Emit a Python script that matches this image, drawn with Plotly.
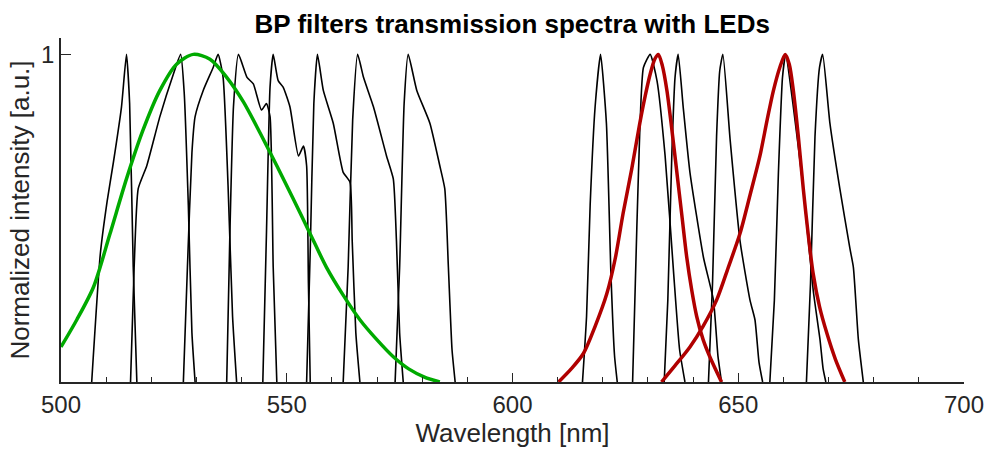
import plotly.graph_objects as go

# Band-pass filter transmission curves (wavelength nm, normalized)
f1_x = [506.8, 508.7, 510.2, 511.6, 513.4, 514.5, 515.2, 516.0, 516.8]
f1_y = [0.0, 0.39, 0.55, 0.67, 0.84, 1.0, 0.85, 0.35, 0.0]
f2_x = [515.4, 516.2, 517.1, 519.0, 521.9, 524.9, 526.5, 527.3, 528.2, 529.0, 529.7]
f2_y = [0.0, 0.35, 0.59, 0.66, 0.81, 0.94, 1.0, 0.88, 0.54, 0.15, 0.0]
f3_x = [527.1, 528.0, 529.0, 529.7, 531.5, 533.7, 534.8, 535.9, 537.0, 538.0, 538.9]
f3_y = [0.0, 0.35, 0.7, 0.81, 0.89, 0.96, 1.0, 0.93, 0.6, 0.2, 0.0]
f4_x = [536.7, 537.4, 538.2, 539.3, 541.2, 542.6, 544.4, 545.5, 546.3, 547.0, 547.8]
f4_y = [0.0, 0.45, 0.84, 1.0, 0.93, 0.91, 0.83, 0.85, 0.81, 0.35, 0.0]
f5_x = [544.7, 545.5, 546.3, 547.0, 548.1, 549.2, 550.7, 552.6, 553.7, 554.4, 554.8, 555.2]
f5_y = [0.0, 0.45, 0.9, 1.0, 0.92, 0.90, 0.84, 0.69, 0.72, 0.66, 0.3, 0.0]
f6_x = [554.4, 555.2, 556.0, 556.8, 558.1, 560.3, 562.5, 564.0, 564.5, 565.3, 566.2]
f6_y = [0.0, 0.4, 0.85, 1.0, 0.89, 0.79, 0.64, 0.61, 0.43, 0.15, 0.0]
f7_x = [562.5, 563.6, 564.6, 565.7, 567.0, 569.2, 572.1, 573.6, 574.3, 575.0, 575.8]
f7_y = [0.0, 0.35, 0.8, 1.0, 0.93, 0.84, 0.69, 0.62, 0.43, 0.15, 0.0]
f8_x = [574.0, 575.0, 576.0, 576.9, 578.8, 581.7, 583.9, 585.0, 585.8, 586.6, 587.3]
f8_y = [0.0, 0.35, 0.85, 1.0, 0.89, 0.79, 0.66, 0.59, 0.35, 0.1, 0.0]
f9_x = [615.5, 616.4, 617.2, 618.3, 619.5, 620.8, 621.8, 622.6, 623.2]
f9_y = [0.0, 0.2, 0.54, 0.84, 1.0, 0.79, 0.33, 0.08, 0.0]
f10_x = [626.6, 627.2, 627.9, 629.0, 630.5, 632.0, 633.8, 635.7, 637.0, 638.2]
f10_y = [0.0, 0.3, 0.64, 0.96, 1.0, 0.92, 0.69, 0.33, 0.1, 0.0]
f11_x = [633.6, 634.4, 635.3, 636.0, 636.7, 637.8, 639.3, 642.3, 644.5, 645.5, 646.3]
f11_y = [0.0, 0.25, 0.7, 0.93, 1.0, 0.84, 0.64, 0.38, 0.25, 0.08, 0.0]
f12_x = [643.4, 644.3, 645.2, 645.9, 646.6, 648.2, 650.4, 652.6, 653.7, 654.6, 655.4]
f12_y = [0.0, 0.3, 0.75, 0.95, 1.0, 0.74, 0.43, 0.25, 0.19, 0.06, 0.0]
f13_x = [657.0, 658.0, 658.9, 659.8, 660.5, 662.2, 664.4, 666.6, 668.1, 668.8, 669.4]
f13_y = [0.0, 0.25, 0.64, 0.93, 1.0, 0.84, 0.59, 0.28, 0.13, 0.04, 0.0]
f14_x = [665.1, 666.0, 667.0, 668.0, 668.7, 670.3, 672.5, 674.7, 675.5, 676.6, 677.7]
f14_y = [0.0, 0.3, 0.75, 0.96, 1.0, 0.79, 0.59, 0.41, 0.35, 0.13, 0.0]

filters_x = [f1_x, f2_x, f3_x, f4_x, f5_x, f6_x, f7_x, f8_x, f9_x, f10_x, f11_x, f12_x, f13_x, f14_x]
filters_y = [f1_y, f2_y, f3_y, f4_y, f5_y, f6_y, f7_y, f8_y, f9_y, f10_y, f11_y, f12_y, f13_y, f14_y]

# LED emission spectra
green_x = [500.0, 503.5, 507.2, 510.8, 514.5, 518.2, 521.9, 525.6, 529.3, 533.0, 536.7, 540.4, 544.1,
           547.8, 551.4, 555.1, 558.8, 562.5, 566.2, 569.9, 573.6, 577.0, 580.5, 583.9]
green_y = [0.107, 0.19, 0.29, 0.45, 0.62, 0.77, 0.89, 0.97, 1.0, 0.985, 0.93, 0.855, 0.76,
           0.66, 0.56, 0.455, 0.35, 0.265, 0.19, 0.13, 0.077, 0.04, 0.015, 0.0]
red1_x = [610.2, 613.0, 615.7, 618.3, 620.9, 622.8, 624.5, 626.4, 628.2, 629.5, 630.5, 631.5, 632.3,
          633.2, 634.2, 635.3, 636.4, 637.5, 638.6, 639.7, 640.8, 642.2, 643.7, 646.3]
red1_y = [0.0, 0.04, 0.087, 0.17, 0.27, 0.38, 0.515, 0.65, 0.79, 0.88, 0.94, 0.985, 1.0,
          0.965, 0.89, 0.77, 0.64, 0.51, 0.38, 0.28, 0.2, 0.13, 0.077, 0.0]
red2_x = [633.0, 636.0, 639.3, 642.2, 645.2, 647.8, 650.4, 652.6, 654.8, 656.4, 657.8, 659.2, 660.4,
          661.3, 662.2, 663.3, 664.4, 665.5, 666.6, 668.0, 669.6, 671.5, 673.6]
red2_y = [0.0, 0.05, 0.107, 0.17, 0.25, 0.35, 0.454, 0.57, 0.69, 0.8, 0.89, 0.96, 1.0,
          0.97, 0.89, 0.75, 0.59, 0.45, 0.33, 0.23, 0.15, 0.07, 0.0]

x_tickvals = [500, 550, 600, 650, 700]
y_tickvals = [1]

fig = go.Figure()
for fx, fy in zip(filters_x, filters_y):
    fig.add_trace(go.Scatter(x=fx, y=fy, mode="lines",
                             line=dict(color="black", width=1.6, shape="spline", smoothing=0.5),
                             showlegend=False, hoverinfo="skip"))
fig.add_trace(go.Scatter(x=green_x, y=green_y, mode="lines",
                         line=dict(color="#00AA00", width=3.5, shape="spline", smoothing=0.8),
                         showlegend=False))
fig.add_trace(go.Scatter(x=red1_x, y=red1_y, mode="lines",
                         line=dict(color="#B00000", width=3.5, shape="spline", smoothing=0.8),
                         showlegend=False))
fig.add_trace(go.Scatter(x=red2_x, y=red2_y, mode="lines",
                         line=dict(color="#B00000", width=3.5, shape="spline", smoothing=0.8),
                         showlegend=False))

axis_color = "#262626"
fig.update_layout(
    width=987, height=454,
    margin=dict(l=61, r=23, t=38, b=72, autoexpand=False),
    paper_bgcolor="white", plot_bgcolor="white",
    font=dict(family="Liberation Sans, Arial, sans-serif", color=axis_color),
    title=dict(text="<b>BP filters transmission spectra with LEDs</b>",
               x=0.519, xanchor="center", y=0.947, yanchor="middle",
               font=dict(size=26, color="black")),
    xaxis=dict(range=[500, 700], tickvals=x_tickvals, ticks="inside", ticklen=9,
               tickwidth=1.2, tickcolor=axis_color, showline=True, linecolor=axis_color,
               linewidth=1.5, showgrid=False, zeroline=False, tickfont=dict(size=24),
               automargin=False,
               minor=dict(dtick=10, ticks="inside", ticklen=5, tickcolor=axis_color, showgrid=False),
               title=dict(text="Wavelength [nm]", font=dict(size=26), standoff=4)),
    yaxis=dict(range=[0, 1.05], tickvals=y_tickvals, ticks="inside", ticklen=10,
               tickwidth=1.2, tickcolor=axis_color, showline=True, linecolor=axis_color,
               linewidth=1.5, showgrid=False, zeroline=False, tickfont=dict(size=24),
               automargin=False,
               title=dict(text="Normalized intensity [a.u.]", font=dict(size=26), standoff=4)),
)

fig.write_html("out.html")
